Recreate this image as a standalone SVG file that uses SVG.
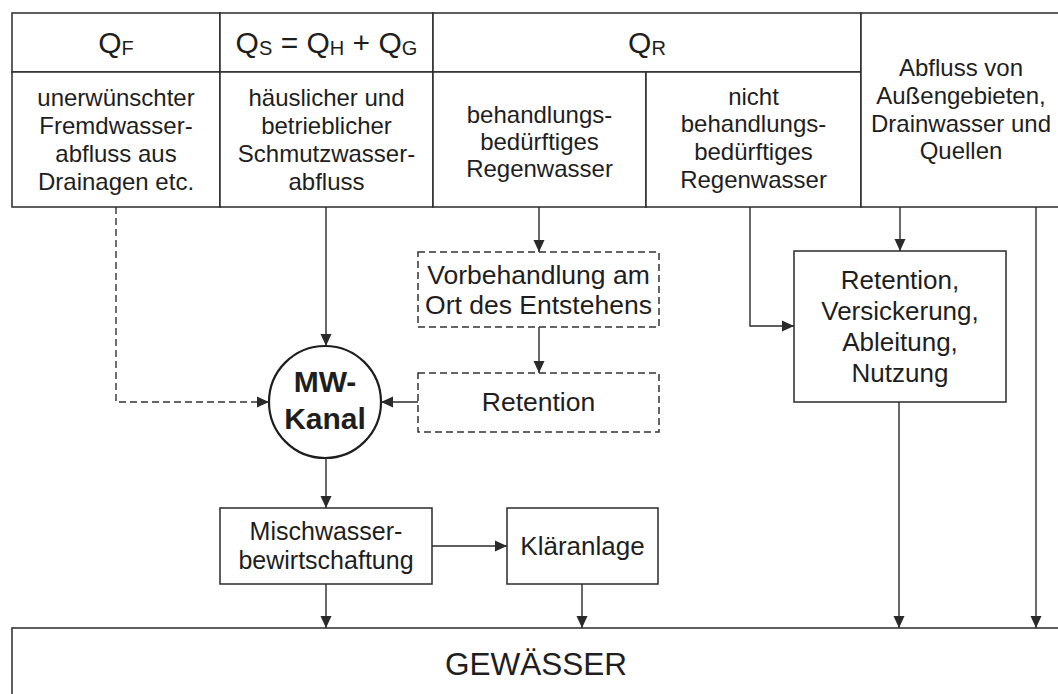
<svg xmlns="http://www.w3.org/2000/svg" width="1058" height="694" viewBox="0 0 1058 694">
<defs>
<style>
text{font-family:"Liberation Sans",Arial,sans-serif;fill:#1e1e1e;text-anchor:middle}
.cell{fill:#fff;stroke:#2a2a2a;stroke-width:1.5}
.box{fill:#fff;stroke:#2a2a2a;stroke-width:1.5}
.dbox{fill:#fff;stroke:#333;stroke-width:1.5;stroke-dasharray:7 4}
.hq{font-size:30px}
.sub{font-size:20px}
.hb{font-size:24px}
.mb{font-size:26px}
.ln{fill:none;stroke:#2a2a2a;stroke-width:1.4}
.dl{fill:none;stroke:#333;stroke-width:1.4;stroke-dasharray:7 4}
</style>
<marker id="ah" markerUnits="userSpaceOnUse" markerWidth="12" markerHeight="12" refX="12" refY="6" orient="auto">
<path d="M0,0.5 L12,6 L0,11.5 z" fill="#2a2a2a"/>
</marker>
</defs>
<rect width="1058" height="694" fill="#fff"/>

<g id="cell-qf">
<rect class="cell" x="12" y="13" width="208" height="59"/>
<rect class="cell" x="12" y="72" width="208" height="135"/>
<text class="hq" x="116" y="53">Q<tspan class="sub" dy="2">F</tspan></text>
<text class="hb" x="116" y="106">unerwünschter</text>
<text class="hb" x="116" y="134">Fremdwasser-</text>
<text class="hb" x="116" y="162">abfluss aus</text>
<text class="hb" x="116" y="190">Drainagen etc.</text>
</g>

<g id="cell-qs">
<rect class="cell" x="220" y="13" width="213" height="59"/>
<rect class="cell" x="220" y="72" width="213" height="135"/>
<text class="hq" x="326.5" y="53">Q<tspan class="sub" dy="2">S</tspan><tspan dy="-2"> = Q</tspan><tspan class="sub" dy="2">H</tspan><tspan dy="-2"> + Q</tspan><tspan class="sub" dy="2">G</tspan></text>
<text class="hb" x="326.5" y="106">häuslicher und</text>
<text class="hb" x="326.5" y="134">betrieblicher</text>
<text class="hb" x="326.5" y="162">Schmutzwasser-</text>
<text class="hb" x="326.5" y="190">abfluss</text>
</g>

<g id="cell-qr">
<rect class="cell" x="433" y="13" width="428" height="59"/>
<text class="hq" x="647" y="53">Q<tspan class="sub" dy="2">R</tspan></text>
</g>

<g id="cell-qr-treat">
<rect class="cell" x="433" y="72" width="213" height="135"/>
<text class="hb" x="539.5" y="123">behandlungs-</text>
<text class="hb" x="539.5" y="150">bedürftiges</text>
<text class="hb" x="539.5" y="177">Regenwasser</text>
</g>

<g id="cell-qr-nontreat">
<rect class="cell" x="646" y="72" width="215" height="135"/>
<text class="hb" x="753.5" y="105">nicht</text>
<text class="hb" x="753.5" y="132">behandlungs-</text>
<text class="hb" x="753.5" y="160">bedürftiges</text>
<text class="hb" x="753.5" y="188">Regenwasser</text>
</g>

<g id="cell-ext">
<rect class="cell" x="861" y="13" width="205" height="194"/>
<text class="hb" x="961" y="76">Abfluss von</text>
<text class="hb" x="961" y="104">Außengebieten,</text>
<text class="hb" x="961" y="132">Drainwasser und</text>
<text class="hb" x="961" y="159">Quellen</text>
</g>

<g id="vorbehandlung">
<rect class="dbox" x="418" y="252" width="241" height="75"/>
<text x="538.5" y="284" font-size="26.5">Vorbehandlung am</text>
<text x="538.5" y="314" font-size="26.5">Ort des Entstehens</text>
</g>

<g id="retention-dashed">
<rect class="dbox" x="418" y="373" width="241" height="59"/>
<text x="538.5" y="411" font-size="26.5">Retention</text>
</g>

<g id="mw-kanal">
<circle cx="325" cy="402" r="56" fill="#fff" stroke="#1e1e1e" stroke-width="2.2"/>
<text x="325" y="392" font-size="30" font-weight="bold">MW-</text>
<text x="325" y="429" font-size="30" font-weight="bold">Kanal</text>
</g>

<g id="retention-box">
<rect class="box" x="794" y="251" width="212" height="151"/>
<text class="mb" x="900" y="289">Retention,</text>
<text class="mb" x="900" y="320">Versickerung,</text>
<text class="mb" x="900" y="351">Ableitung,</text>
<text class="mb" x="900" y="382">Nutzung</text>
</g>

<g id="mischwasser">
<rect class="box" x="220" y="508" width="212" height="76"/>
<text x="326" y="540" font-size="25">Mischwasser-</text>
<text x="326" y="569" font-size="25">bewirtschaftung</text>
</g>

<g id="klaeranlage">
<rect class="box" x="507" y="508" width="151" height="76"/>
<text class="mb" x="582.5" y="555">Kläranlage</text>
</g>

<g id="gewaesser">
<rect class="box" x="12" y="628" width="1060" height="80"/>
<text x="536" y="675" font-size="31.5">GEWÄSSER</text>
</g>

<g id="connectors">
<path class="dl" d="M116,207 V402 H269" marker-end="url(#ah)"/>
<path class="ln" d="M326,207 V346" marker-end="url(#ah)"/>
<path class="ln" d="M539,207 V252" marker-end="url(#ah)"/>
<path class="ln" d="M539,327 V373" marker-end="url(#ah)"/>
<path class="ln" d="M418,402 H381" marker-end="url(#ah)"/>
<path class="ln" d="M750,207 V326 H794" marker-end="url(#ah)"/>
<path class="ln" d="M900,207 V251" marker-end="url(#ah)"/>
<path class="ln" d="M326,458 V508" marker-end="url(#ah)"/>
<path class="ln" d="M432,546 H507" marker-end="url(#ah)"/>
<path class="ln" d="M326,584 V628" marker-end="url(#ah)"/>
<path class="ln" d="M582,584 V628" marker-end="url(#ah)"/>
<path class="ln" d="M899,402 V628" marker-end="url(#ah)"/>
<path class="ln" d="M1036,207 V628" marker-end="url(#ah)"/>
</g>
</svg>
